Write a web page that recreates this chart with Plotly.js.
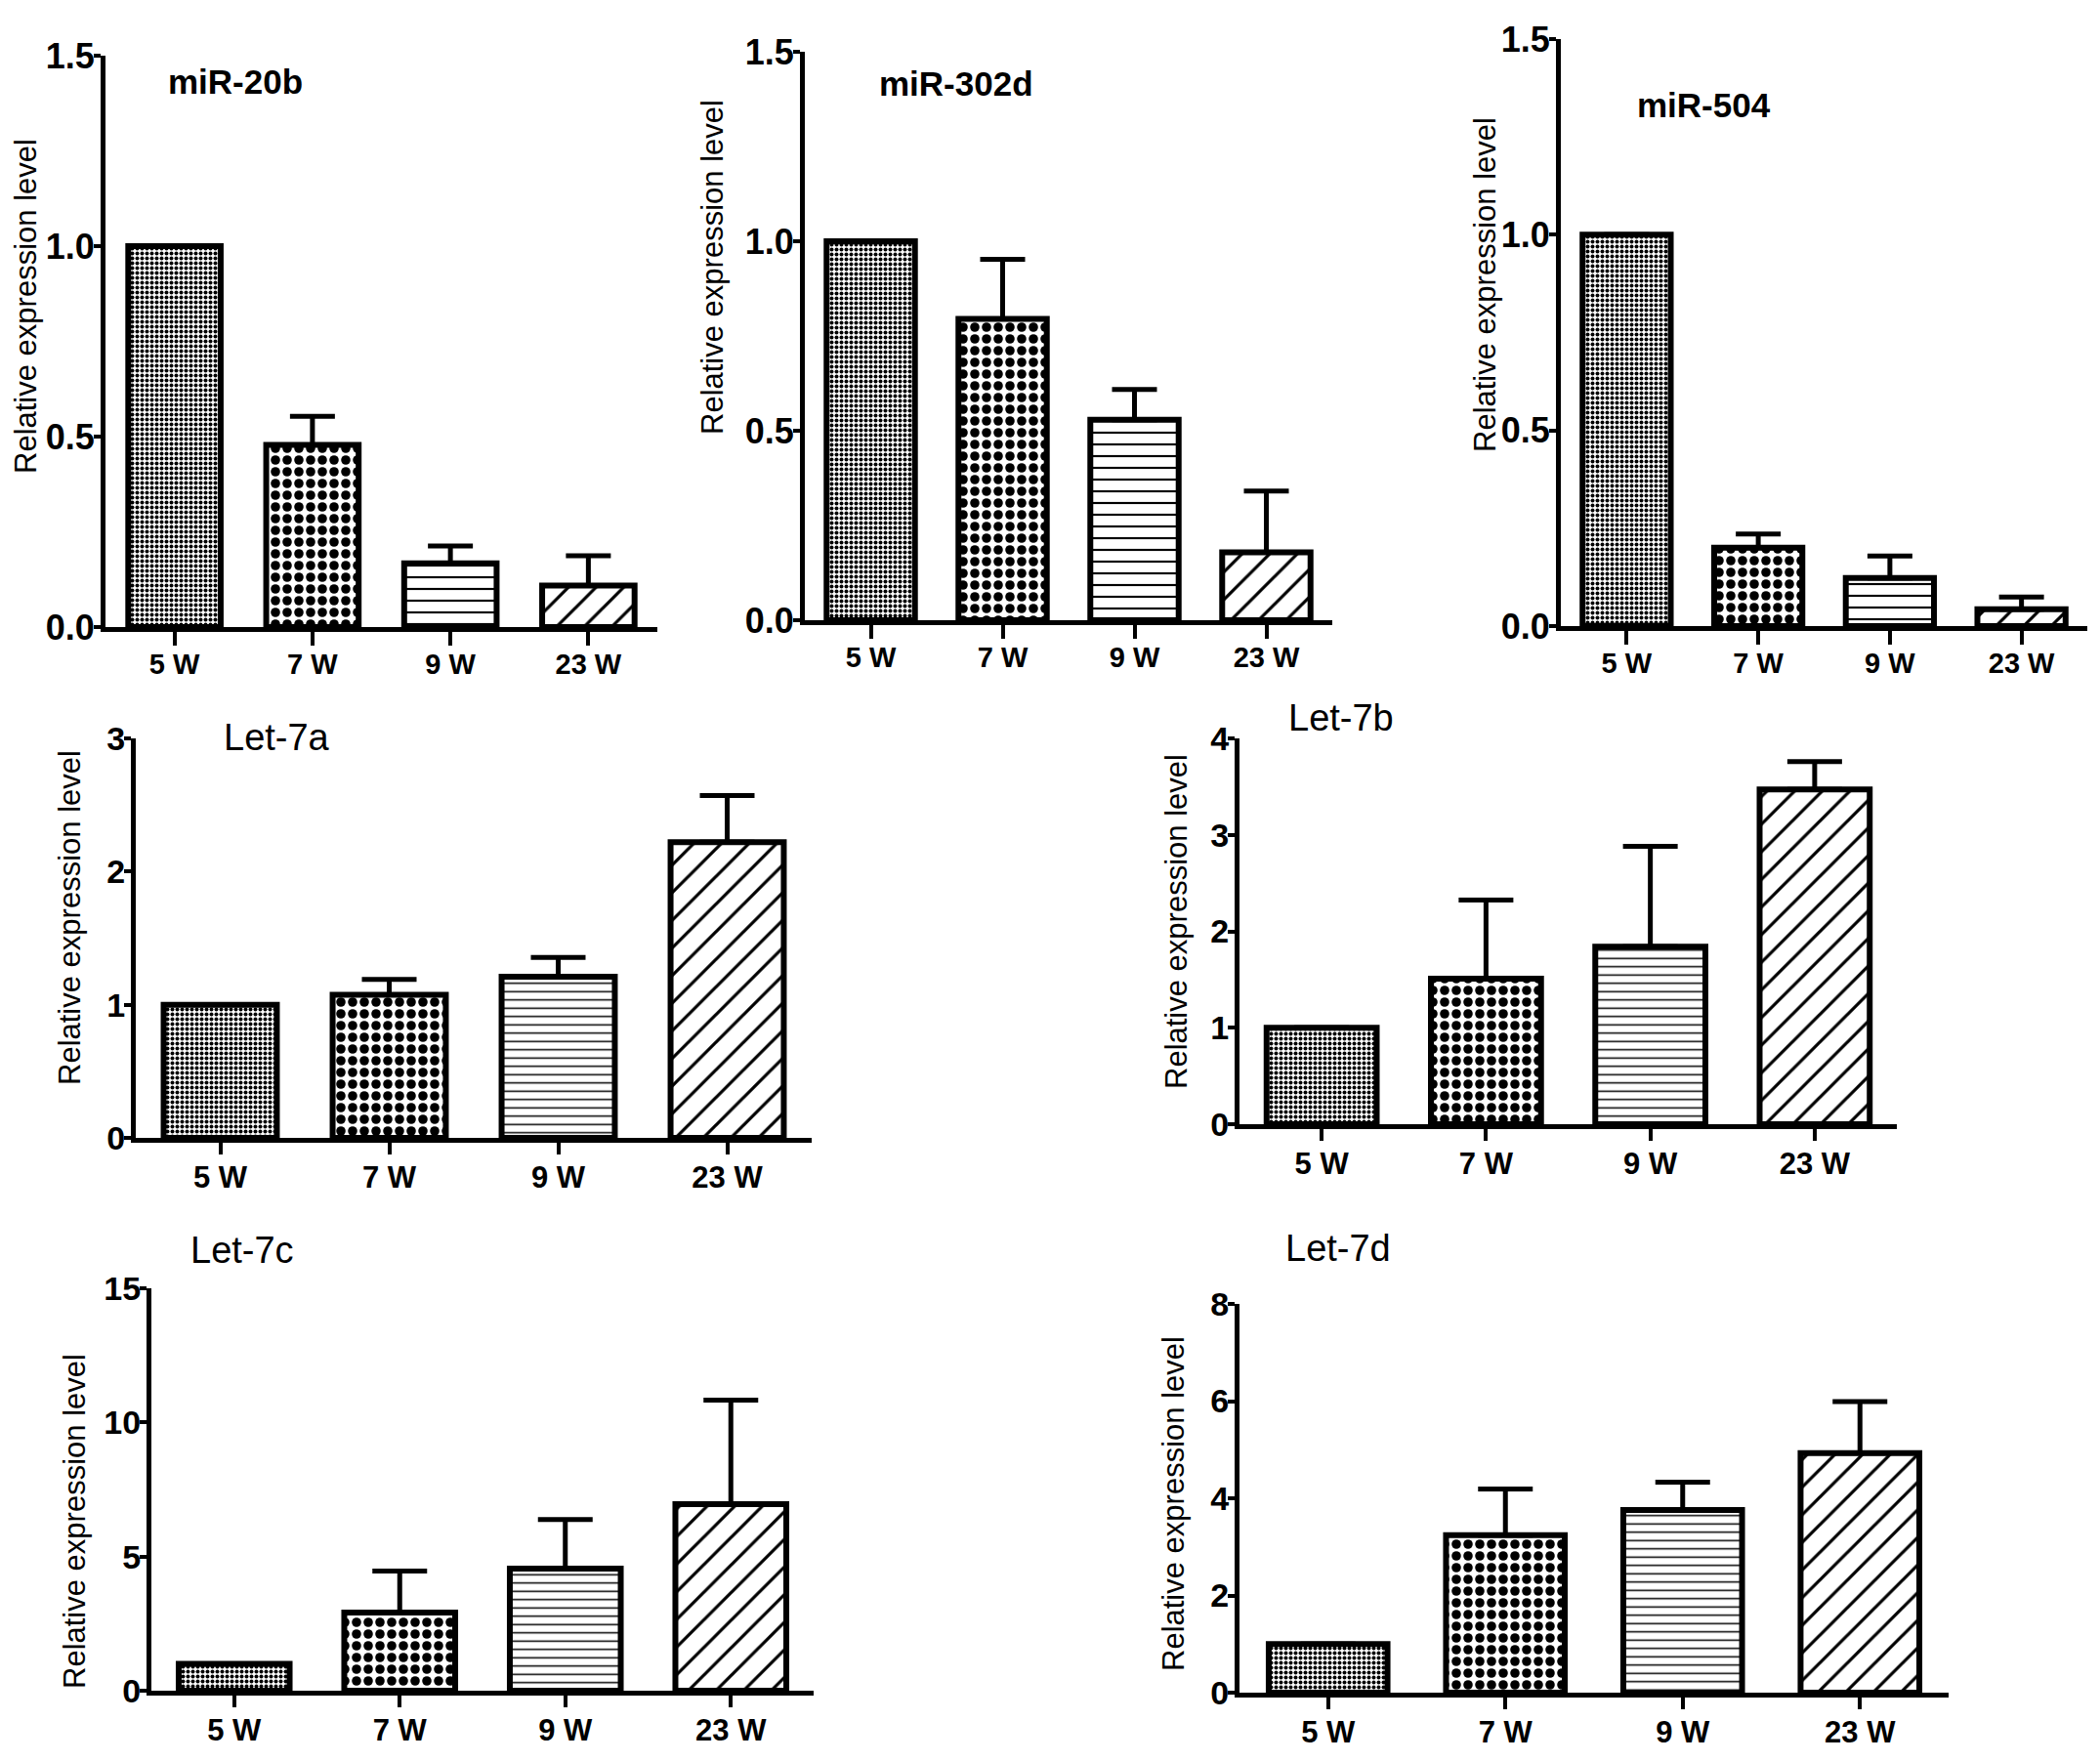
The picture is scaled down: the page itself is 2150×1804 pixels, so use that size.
<!DOCTYPE html>
<html lang="en">
<head>
    <meta charset="UTF-8">
    <title>miRNA expression</title>
    <script src="https://cdn.plot.ly/plotly-3.0.1.min.js"></script>
    <style>
        body { margin: 0; background: white; }
    </style>
</head>

<body>

<div id="plot" style="width:2150px;height:1804px;"></div>

<script>

    const weeks = ["5 W", "7 W", "9 W", "23 W"]

    const mir20b = [1.0, 0.478, 0.167, 0.109]
    const mir20bErr = [0, 0.075, 0.046, 0.078]

    const mir302d = [1.0, 0.795, 0.529, 0.179]
    const mir302dErr = [0, 0.157, 0.080, 0.162]

    const mir504 = [1.0, 0.200, 0.123, 0.043]
    const mir504Err = [0, 0.035, 0.056, 0.031]

    const let7a = [1.0, 1.075, 1.21, 2.22]
    const let7aErr = [0, 0.115, 0.145, 0.35]

    const let7b = [1.0, 1.51, 1.84, 3.47]
    const let7bErr = [0, 0.815, 1.04, 0.29]

    const let7c = [1.0, 2.91, 4.55, 6.95]
    const let7cErr = [0, 1.55, 1.83, 3.88]

    const let7d = [1.0, 3.24, 3.76, 4.93]
    const let7dErr = [0, 0.95, 0.57, 1.06]

    // pixel boxes of each panel (axis corner positions) on the 2150x1804 page
    const W = 2150, H = 1804
    const panels = [
        {name: "miR-20b",  vals: mir20b,  errs: mir20bErr,  ymax: 1.5, dtick: 0.5, fmt: ".1f", x: [108, 673],  y: [57, 642],    t: [241, 83],    lab: [26, 314],    top: true},
        {name: "miR-302d", vals: mir302d, errs: mir302dErr, ymax: 1.5, dtick: 0.5, fmt: ".1f", x: [824, 1364], y: [53, 635],    t: [979, 85],    lab: [730, 274],   top: true},
        {name: "miR-504",  vals: mir504,  errs: mir504Err,  ymax: 1.5, dtick: 0.5, fmt: ".1f", x: [1598, 2137], y: [40, 641],   t: [1744, 108],  lab: [1520, 292],  top: true},
        {name: "Let-7a",   vals: let7a,   errs: let7aErr,   ymax: 3,   dtick: 1,   fmt: "d",   x: [139, 831],  y: [756, 1165],  t: [283, 755],   lab: [71, 940],    top: false},
        {name: "Let-7b",   vals: let7b,   errs: let7bErr,   ymax: 4,   dtick: 1,   fmt: "d",   x: [1269, 1942], y: [756, 1151], t: [1373, 735],  lab: [1204, 944],  top: false},
        {name: "Let-7c",   vals: let7c,   errs: let7cErr,   ymax: 15,  dtick: 5,   fmt: "d",   x: [155, 833],  y: [1319, 1731], t: [248, 1280],  lab: [76, 1558],   top: false},
        {name: "Let-7d",   vals: let7d,   errs: let7dErr,   ymax: 8,   dtick: 2,   fmt: "d",   x: [1269, 1995], y: [1335, 1733], t: [1370, 1278], lab: [1201, 1540],  top: false}
    ]

    const sans = "Liberation Sans, Arial, Helvetica, sans-serif"

    const data = []
    const layout = {
        width: W,
        height: H,
        margin: {l: 0, r: 0, t: 0, b: 0},
        paper_bgcolor: "white",
        plot_bgcolor: "white",
        showlegend: false,
        annotations: []
    }

    panels.forEach((p, i) => {
        const n = i === 0 ? "" : String(i + 1)
        const lineSize = p.top ? 12 : 8.5
        data.push({
            type: "bar",
            x: weeks,
            y: p.vals,
            xaxis: "x" + n,
            yaxis: "y" + n,
            width: 0.67,
            marker: {
                color: "white",
                line: {color: "black", width: 6},
                pattern: {
                    shape: [".", ".", "-", "/"],
                    size: [5, 12, lineSize, 20],
                    solidity: [0.5, 0.5, 0.18, 0.16],
                    fgcolor: "black",
                    bgcolor: "white",
                    fillmode: "replace"
                }
            },
            error_y: {
                type: "data",
                symmetric: false,
                array: p.errs,
                arrayminus: p.errs.map(() => 0),
                color: "black",
                thickness: 5,
                width: p.top ? 23 : 28
            }
        })

        layout["xaxis" + n] = {
            domain: [p.x[0] / W, p.x[1] / W],
            anchor: "y" + n,
            type: "category",
            range: [-0.5, 3.5],
            showline: true,
            linecolor: "black",
            linewidth: 5,
            ticks: "outside",
            ticklen: p.top ? 14 : 12,
            tickwidth: 4,
            tickcolor: "black",
            ticklabelstandoff: p.top ? -6 : -3,
            showgrid: false,
            zeroline: false,
            tickfont: {family: sans, size: p.top ? 29 : 31, color: "black", weight: "bold"},
            fixedrange: true
        }
        layout["yaxis" + n] = {
            domain: [1 - p.y[1] / H, 1 - p.y[0] / H],
            anchor: "x" + n,
            range: [0, p.ymax],
            dtick: p.dtick,
            tick0: 0,
            tickformat: p.fmt,
            showline: true,
            linecolor: "black",
            linewidth: 5,
            ticks: "outside",
            ticklen: 7,
            tickwidth: 4,
            tickcolor: "black",
            ticklabelstandoff: -8,
            showgrid: false,
            zeroline: false,
            tickfont: {family: sans, size: p.top ? 36 : 34, color: "black", weight: "bold"},
            fixedrange: true
        }

        // panel name
        layout.annotations.push({
            text: p.name,
            xref: "paper", yref: "paper",
            x: p.t[0] / W, y: 1 - p.t[1] / H,
            xanchor: "center", yanchor: "middle",
            showarrow: false,
            font: p.top ? {family: sans, size: 35, color: "black", weight: "bold"}
                        : {family: sans, size: 38, color: "black"}
        })
        // y axis title
        layout.annotations.push({
            text: "Relative expression level",
            xref: "paper", yref: "paper",
            x: p.lab[0] / W, y: 1 - p.lab[1] / H,
            xanchor: "center", yanchor: "middle",
            textangle: -90,
            showarrow: false,
            font: {family: sans, size: 31, color: "black"}
        })
    })

    Plotly.newPlot("plot", data, layout, {displayModeBar: false, staticPlot: true})

</script>
</body>
</html>
